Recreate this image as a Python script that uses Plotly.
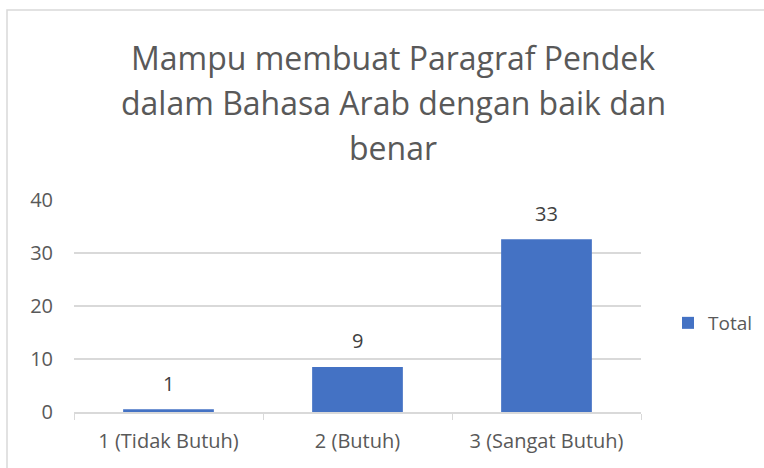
import plotly.graph_objects as go

# Data
categories = ["1 (Tidak Butuh)", "2 (Butuh)", "3 (Sangat Butuh)"]
totals = [0.5, 8.5, 32.6]
labels = ["1", "9", "33"]
y_ticks = [0, 10, 20, 30, 40]

title_lines = ["Mampu membuat Paragraf Pendek",
               "dalam Bahasa Arab dengan baik dan",
               "benar"]

font_family = "Open Sans, Segoe UI, sans-serif"
grey = "#595959"

fig = go.Figure()
fig.add_bar(
    x=categories,
    y=totals,
    name="Total",
    marker=dict(color="#4472C4", line=dict(width=0)),
)

# data labels sit a bit higher above the bars than plotly's default
for c, v, s in zip(categories, totals, labels):
    fig.add_annotation(
        x=c, y=v, text=s, showarrow=False,
        yanchor="middle", yshift=26,
        font=dict(size=20, color="#404040", family=font_family),
    )

# plot area in px: x 74..641, y 200..412
W, H = 764, 468
l, r, t, b = 74, 123, 200, 56
pw, ph = W - l - r, H - t - b

def px_x(p):
    return (p - l) / pw

def px_y(p):
    return (H - b - p) / ph

fig.update_layout(
    width=W,
    height=H,
    margin=dict(l=l, r=r, t=t, b=b, autoexpand=False),
    paper_bgcolor="white",
    plot_bgcolor="white",
    font=dict(family=font_family, color=grey, size=20),
    bargap=0.52,
    showlegend=True,
    legend=dict(
        x=px_x(668), y=px_y(323), xanchor="left", yanchor="middle",
        font=dict(size=19, color=grey), itemwidth=30,
    ),
    xaxis=dict(
        showline=True, linecolor="#d9d9d9", linewidth=1.5,
        ticks="outside", tickson="boundaries", ticklen=6, tickcolor="#d9d9d9",
        tickfont=dict(size=20, color=grey), ticklabelstandoff=10,
        showgrid=False,
    ),
    yaxis=dict(
        range=[0, 40], tickvals=y_ticks,
        showgrid=True, gridcolor="#d9d9d9", gridwidth=1.5,
        showline=False, zeroline=False,
        tickfont=dict(size=20, color=grey), ticklabelstandoff=20,
    ),
)

# title, one annotation per line to match the wide line spacing
for line, cy in zip(title_lines, [57, 102, 147]):
    fig.add_annotation(
        text=line, xref="paper", yref="paper",
        x=px_x(393), y=px_y(cy), xanchor="center", yanchor="middle",
        showarrow=False,
        font=dict(size=32, color=grey, family=font_family),
    )

# chart border
fig.add_shape(
    type="rect", xref="paper", yref="paper",
    x0=px_x(7), x1=px_x(800), y0=px_y(500), y1=px_y(10),
    line=dict(color="#d9d9d9", width=1.5), layer="below",
)

fig.write_html("out.html", config={"displayModeBar": False},
               post_script="document.body.style.margin='0px';")
